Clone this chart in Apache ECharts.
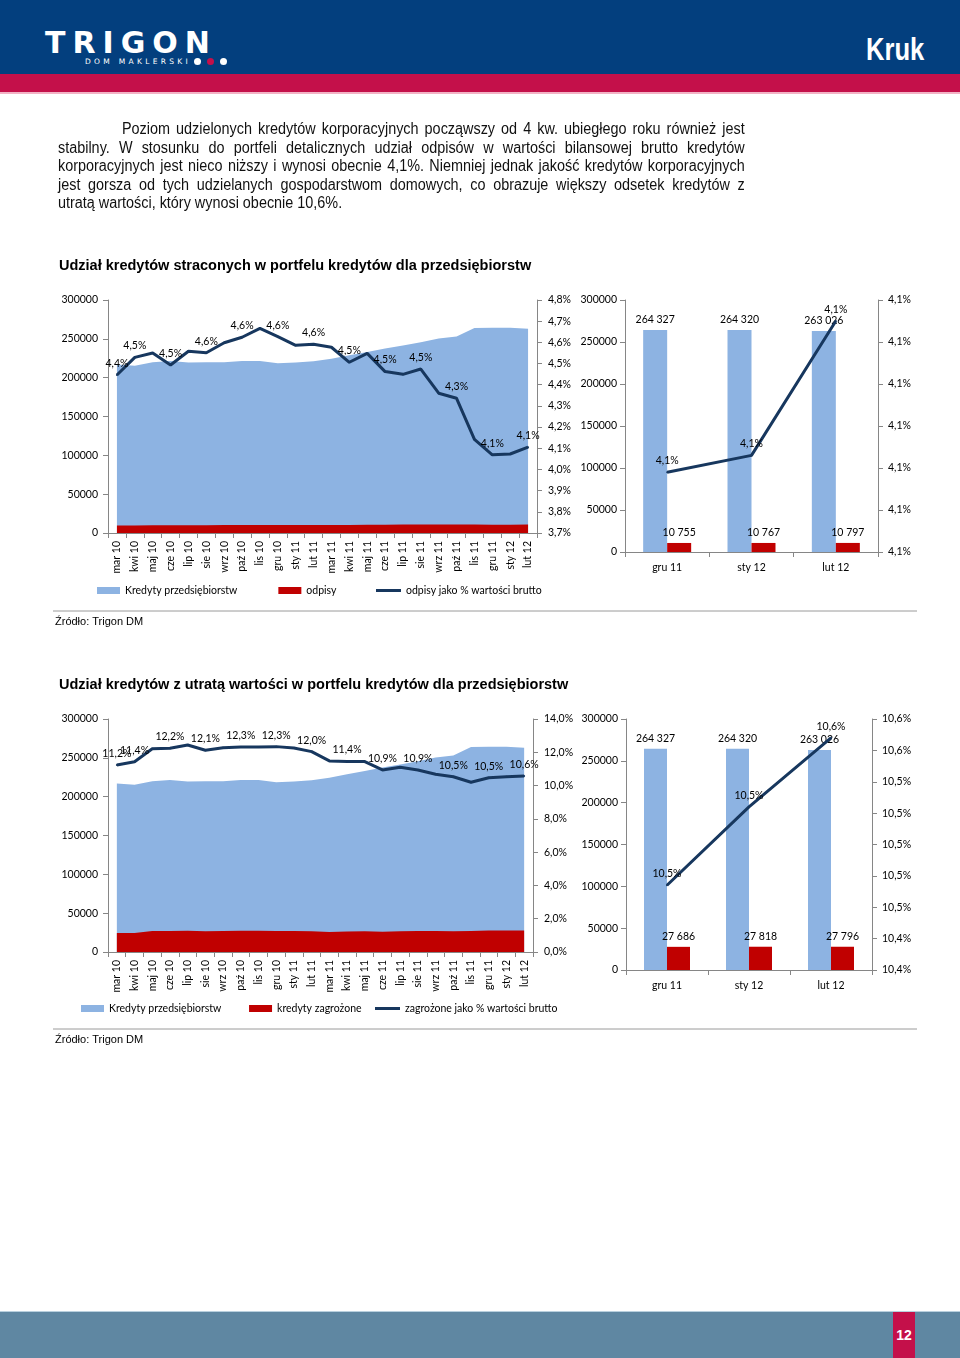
<!DOCTYPE html>
<html><head><meta charset="utf-8">
<script src="https://cdn.jsdelivr.net/npm/echarts@6/dist/echarts.min.js"></script>
<style>
html,body{margin:0;padding:0;background:#fff;}
body{width:960px;height:1358px;position:relative;overflow:hidden;font-family:"Liberation Sans",Arial,sans-serif;}
.abs{position:absolute;}
#chart{position:absolute;left:0;top:0;width:960px;height:1358px;z-index:1;}
.para{position:absolute;left:58px;top:120px;width:763px;transform:scaleX(0.9);transform-origin:0 0;font-family:"Liberation Sans",Arial,sans-serif;font-size:16px;line-height:18.5px;color:#111;z-index:2;}
.para div{text-align:justify;text-align-last:justify;white-space:nowrap;}
.para div.last{text-align-last:left;}
</style></head>
<body>
<div class="abs" style="left:0;top:0;width:960px;height:74px;background:#033f7e;z-index:2"></div>
<div class="abs" style="left:0;top:74px;width:960px;height:18px;background:#c4104a;z-index:2"></div>
<div class="abs" style="left:0;top:92px;width:960px;height:2px;background:#f2b3c5;z-index:2"></div>
<div class="abs" style="left:45px;top:26px;z-index:3;color:#fff;font-family:'DejaVu Sans',sans-serif;font-weight:bold;font-size:30px;letter-spacing:7px;line-height:34px;">TRIGON</div>
<div class="abs" style="left:85px;top:57px;z-index:3;color:#fff;font-family:'DejaVu Sans',sans-serif;font-size:7.5px;letter-spacing:3.3px;line-height:10px;">DOM MAKLERSKI</div>
<div class="abs" style="left:194px;top:58px;width:7px;height:7px;border-radius:50%;background:#fff;z-index:3"></div>
<div class="abs" style="left:207px;top:58px;width:7px;height:7px;border-radius:50%;background:#c4104a;z-index:3"></div>
<div class="abs" style="left:220px;top:58px;width:7px;height:7px;border-radius:50%;background:#fff;z-index:3"></div>
<div class="abs" style="left:866px;top:30px;z-index:3;color:#fff;font-family:'Liberation Sans',Arial,sans-serif;font-weight:bold;font-size:32px;line-height:38px;transform:scaleX(0.8);transform-origin:0 0;">Kruk</div>

<div class="para">
<div style="padding-left:71px">Poziom udzielonych kredytów korporacyjnych począwszy od 4 kw. ubiegłego roku również jest</div>
<div>stabilny. W stosunku do portfeli detalicznych udział odpisów w wartości bilansowej brutto kredytów</div>
<div>korporacyjnych jest nieco niższy i wynosi obecnie 4,1%. Niemniej jednak jakość kredytów korporacyjnych</div>
<div>jest gorsza od tych udzielanych gospodarstwom domowych, co obrazuje większy odsetek kredytów z</div>
<div class="last">utratą wartości, który wynosi obecnie 10,6%.</div>
</div>

<div id="chart"></div>

<div class="abs" style="left:0;top:1311px;width:960px;height:1px;background:#b9d0de;z-index:2"></div>
<div class="abs" style="left:0;top:1312px;width:960px;height:46px;background:#5f87a2;z-index:2"></div>
<div class="abs" style="left:893px;top:1312px;width:22px;height:46px;background:#c4104a;z-index:3;color:#fff;font-family:'Liberation Sans',Arial,sans-serif;font-weight:bold;font-size:14px;line-height:46px;text-align:center;">12</div>

<script>
// ---------- DATA ----------
const months = ['mar 10','kwi 10','maj 10','cze 10','lip 10','sie 10','wrz 10','paź 10','lis 10','gru 10','sty 11','lut 11','mar 11','kwi 11','maj 11','cze 11','lip 11','sie 11','wrz 11','paź 11','lis 11','gru 11','sty 12','lut 12'];
const kredyty = [217000,215500,220000,221500,219500,220000,220000,221500,221500,218500,219500,221000,224500,229000,233000,237500,241500,245500,250500,253000,264000,264327,264320,263026];
const odpisy = [9600,9750,10100,10000,10050,10050,10200,10300,10400,10200,10150,10200,10350,10400,10650,10650,10800,11050,11000,11050,10950,10755,10767,10797];
const odpisyPct = [4.446,4.529,4.550,4.493,4.558,4.551,4.598,4.624,4.666,4.627,4.586,4.591,4.577,4.506,4.548,4.462,4.449,4.474,4.360,4.336,4.142,4.069,4.073,4.105];
const zagrozone = [24500,24600,27000,27100,27300,26700,27000,27400,27300,27000,27100,26800,25900,26300,26800,26200,26800,27100,26900,26800,26900,27686,27818,27796];
const zagrozonePct = [11.24,11.43,12.21,12.24,12.44,12.12,12.27,12.32,12.32,12.34,12.26,12.04,11.48,11.44,11.44,10.94,11.10,10.94,10.68,10.53,10.20,10.474,10.524,10.568];

const lastMonths = ['gru 11','sty 12','lut 12'];
const lastKredyty = [264327,264320,263026];
const lastOdpisy = [10755,10767,10797];
const lastOdpisyPct = [4.069,4.073,4.105];
const lastZagrozone = [27686,27818,27796];
const lastZagrozonePct = [10.474,10.524,10.568];

const titles = ['Udział kredytów straconych w portfelu kredytów dla przedsiębiorstw','Udział kredytów z utratą wartości w portfelu kredytów dla przedsiębiorstw'];
const source = 'Źródło: Trigon DM';

// ---------- STYLE ----------
const FONT = 'Lato';
const FS = 10.5;
const BLUE = '#8db3e2', RED = '#c00000', NAVY = '#17375e', AX = '#868686';
const pct1 = v => (Math.round(v * 10 + 1e-6) / 10).toFixed(1).replace('.', ',') + '%';
const thou = v => String(v).replace(/\B(?=(\d{3})+(?!\d))/g, ' ');
const plain = v => String(v);
const labelIdx = i => i === 0 || i % 2 === 1;

function catAxis(gi, data, rotate, margin) {
  return { type: 'category', gridIndex: gi, data: data, boundaryGap: true,
    axisLine: { show: true, lineStyle: { color: AX, width: 1 } },
    axisTick: { show: true, length: 5, lineStyle: { color: AX } },
    axisLabel: { interval: 0, rotate: rotate, margin: margin, color: '#000', fontFamily: FONT, fontSize: FS },
    splitLine: { show: false } };
}
function valAxis(gi, pos, min, max, interval, fmt, margin) {
  return { type: 'value', gridIndex: gi, position: pos, min: min, max: max, interval: interval,
    axisLine: { show: true, lineStyle: { color: AX, width: 1 } },
    axisTick: { show: true, length: 5, lineStyle: { color: AX } },
    axisLabel: { formatter: fmt, margin: margin, color: '#000', fontFamily: FONT, fontSize: FS },
    splitLine: { show: false } };
}
const lblStyle = { color: '#000', fontFamily: FONT, fontSize: FS };
const legText = { fontFamily: FONT, fontSize: FS, color: '#000' };
const pctLine = (name, xi, yi, data, withIdx) => ({
  name: name, type: 'line', xAxisIndex: xi, yAxisIndex: yi, symbol: 'circle', symbolSize: 2, showSymbol: true,
  lineStyle: { width: 3, color: NAVY }, itemStyle: { color: NAVY },
  data: withIdx ? data.map((v, i) => ({ value: v, label: { show: labelIdx(i) } })) : data,
  label: Object.assign({ show: !withIdx, position: 'top', distance: 5, formatter: p => pct1(p.value) }, lblStyle)
});

const chart = echarts.init(document.getElementById('chart'), null, { renderer: 'canvas' });
const option = {
  animation: false,
  backgroundColor: 'transparent',
  title: [
    { text: titles[0], left: 59, top: 258, padding: 0, textStyle: { fontFamily: 'Liberation Sans', fontWeight: 'bold', fontSize: 14.5, color: '#000' } },
    { text: source, left: 55, top: 616, padding: 0, textStyle: { fontFamily: 'Liberation Sans', fontWeight: 'normal', fontSize: 11, color: '#000' } },
    { text: titles[1], left: 59, top: 677, padding: 0, textStyle: { fontFamily: 'Liberation Sans', fontWeight: 'bold', fontSize: 14.5, color: '#000' } },
    { text: source, left: 55, top: 1034, padding: 0, textStyle: { fontFamily: 'Liberation Sans', fontWeight: 'normal', fontSize: 11, color: '#000' } }
  ],
  graphic: [
    { type: 'line', shape: { x1: 53, y1: 611, x2: 917, y2: 611 }, style: { stroke: '#9a9a9a', lineWidth: 1 } },
    { type: 'line', shape: { x1: 53, y1: 1029, x2: 917, y2: 1029 }, style: { stroke: '#9a9a9a', lineWidth: 1 } }
  ],
  legend: [
    { left: 97, top: 585, padding: 0, itemWidth: 23, itemHeight: 7, itemGap: 41, textStyle: legText,
      data: [{ name: 'Kredyty przedsiębiorstw', icon: 'rect' }, { name: 'odpisy', icon: 'rect' }] },
    { left: 376, top: 585, padding: 0, itemWidth: 25, itemHeight: 3, textStyle: legText,
      data: [{ name: 'odpisy jako % wartości brutto', icon: 'rect' }] },
    { left: 81, top: 1003, padding: 0, itemWidth: 23, itemHeight: 7, itemGap: 25, textStyle: legText,
      data: [{ name: 'Kredyty przedsiębiorstw ', icon: 'rect' }, { name: 'kredyty zagrożone', icon: 'rect' }] },
    { left: 375, top: 1003, padding: 0, itemWidth: 25, itemHeight: 3, textStyle: legText,
      data: [{ name: 'zagrożone jako % wartości brutto', icon: 'rect' }] }
  ],
  grid: [
    { left: 108, top: 300, width: 429, height: 233, containLabel: false, outerBoundsMode: 'none' },
    { left: 625, top: 300, width: 253, height: 252, containLabel: false, outerBoundsMode: 'none' },
    { left: 108, top: 719, width: 425, height: 233, containLabel: false, outerBoundsMode: 'none' },
    { left: 626, top: 719, width: 246, height: 251, containLabel: false, outerBoundsMode: 'none' }
  ],
  xAxis: [
    catAxis(0, months, 90, 8),
    catAxis(1, lastMonths, 0, 10),
    catAxis(2, months, 90, 8),
    catAxis(3, lastMonths, 0, 10)
  ],
  yAxis: [
    valAxis(0, 'left', 0, 300000, 50000, plain, 10),
    valAxis(0, 'right', 3.7, 4.8, 0.1, pct1, 11),
    valAxis(1, 'left', 0, 300000, 50000, plain, 8),
    valAxis(1, 'right', 4.05, 4.11, 0.01, pct1, 10),
    valAxis(2, 'left', 0, 300000, 50000, plain, 10),
    valAxis(2, 'right', 0, 14, 2, pct1, 11),
    valAxis(3, 'left', 0, 300000, 50000, plain, 8),
    valAxis(3, 'right', 10.42, 10.58, 0.02, pct1, 10)
  ],
  series: [
    // chart 1
    { name: 'Kredyty przedsiębiorstw', type: 'line', xAxisIndex: 0, yAxisIndex: 0, data: kredyty, symbol: 'none',
      lineStyle: { width: 0, color: BLUE }, itemStyle: { color: BLUE }, areaStyle: { color: BLUE, opacity: 1 } },
    { name: 'odpisy', type: 'line', xAxisIndex: 0, yAxisIndex: 0, data: odpisy, symbol: 'none',
      lineStyle: { width: 0, color: RED }, itemStyle: { color: RED }, areaStyle: { color: RED, opacity: 1 } },
    pctLine('odpisy jako % wartości brutto', 0, 1, odpisyPct, true),
    // chart 3
    { name: 'k3', type: 'bar', xAxisIndex: 1, yAxisIndex: 2, data: lastKredyty, barWidth: 24, barGap: '0%',
      itemStyle: { color: BLUE }, label: Object.assign({ show: true, position: 'top', distance: 5, formatter: p => thou(p.value) }, lblStyle) },
    { name: 'o3', type: 'bar', xAxisIndex: 1, yAxisIndex: 2, data: lastOdpisy, barWidth: 24, barGap: '0%',
      itemStyle: { color: RED }, label: Object.assign({ show: true, position: 'top', distance: 5, formatter: p => thou(p.value) }, lblStyle) },
    pctLine('p3', 1, 3, lastOdpisyPct, false),
    // chart 2
    { name: 'Kredyty przedsiębiorstw ', type: 'line', xAxisIndex: 2, yAxisIndex: 4, data: kredyty, symbol: 'none',
      lineStyle: { width: 0, color: BLUE }, itemStyle: { color: BLUE }, areaStyle: { color: BLUE, opacity: 1 } },
    { name: 'kredyty zagrożone', type: 'line', xAxisIndex: 2, yAxisIndex: 4, data: zagrozone, symbol: 'none',
      lineStyle: { width: 0, color: RED }, itemStyle: { color: RED }, areaStyle: { color: RED, opacity: 1 } },
    pctLine('zagrożone jako % wartości brutto', 2, 5, zagrozonePct, true),
    // chart 4
    { name: 'k4', type: 'bar', xAxisIndex: 3, yAxisIndex: 6, data: lastKredyty, barWidth: 23, barGap: '0%',
      itemStyle: { color: BLUE }, label: Object.assign({ show: true, position: 'top', distance: 5, formatter: p => thou(p.value) }, lblStyle) },
    { name: 'z4', type: 'bar', xAxisIndex: 3, yAxisIndex: 6, data: lastZagrozone, barWidth: 23, barGap: '0%',
      itemStyle: { color: RED }, label: Object.assign({ show: true, position: 'top', distance: 5, formatter: p => thou(p.value) }, lblStyle) },
    pctLine('p4', 3, 7, lastZagrozonePct, false)
  ]
};
chart.setOption(option);
</script>
</body></html>
